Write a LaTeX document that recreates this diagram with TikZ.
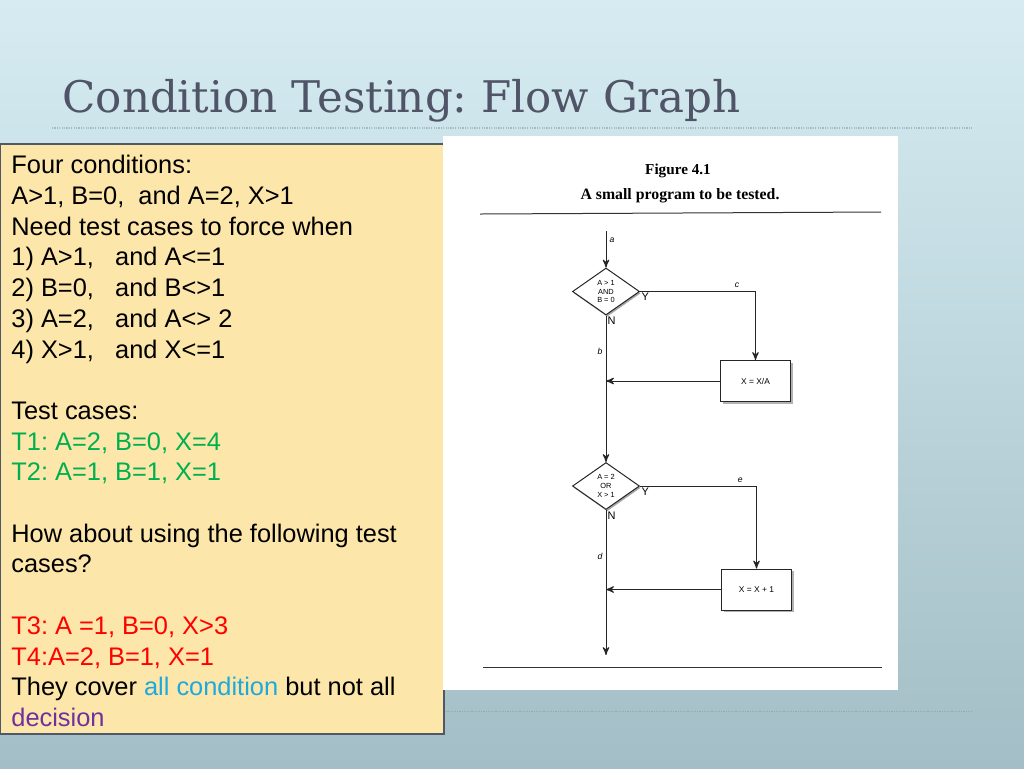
\documentclass[tikz,border=0pt]{standalone}
\usepackage{fontspec}
\setmainfont{Liberation Serif}
\setsansfont{Liberation Sans}
\newfontfamily\titlefont{DejaVu Serif}
\usetikzlibrary{calc}
\usetikzlibrary{arrows}
\usetikzlibrary{positioning}
\usetikzlibrary{shapes.geometric}
\usetikzlibrary{shadows}
\frenchspacing

\definecolor{bgtop}{HTML}{D6ECF2}
\definecolor{bgbot}{HTML}{A3BEC6}
\definecolor{titlegray}{HTML}{4F5466}
\definecolor{rulegray}{HTML}{A6BCC4}
\definecolor{boxfill}{HTML}{FCE6A9}
\definecolor{boxedge}{HTML}{4E5866}
\definecolor{tgreen}{HTML}{00B050}
\definecolor{tred}{HTML}{FF0000}
\definecolor{tblue}{HTML}{1EA9DC}
\definecolor{tpurple}{HTML}{7030A0}

\tikzset{
  decide/.style={diamond, draw=black!85, line width=0.5pt, fill=white, align=center, inner sep=0pt,
    minimum width=33.5pt, minimum height=23.5pt,
    font=\sffamily\fontsize{3.7}{4.3}\selectfont,
    drop shadow={shadow xshift=0.6pt, shadow yshift=-0.9pt, fill=black!70}},
  process/.style={rectangle, draw=black!85, line width=0.5pt, fill=white, inner sep=0pt,
    minimum width=35pt, minimum height=20.5pt,
    font=\sffamily\fontsize{4.2}{5}\selectfont,
    drop shadow={shadow xshift=1pt, shadow yshift=-1.2pt, fill=black!60}},
  flow/.style={->, line width=0.5pt, black!85},
  lbl/.style={font=\sffamily\itshape\fontsize{4.3}{5}\selectfont, inner sep=1.5pt, black},
  yn/.style={font=\sffamily\fontsize{5.5}{6}\selectfont, inner sep=0.6pt, anchor=north west}
}

\begin{document}
\begin{tikzpicture}[x=0.5pt,y=-0.5pt,>=stealth']
\useasboundingbox (0,0) rectangle (1024,768);

% slide background
\shade[top color=bgtop, bottom color=bgbot] (0,0) rectangle (1024,768);
\node[anchor=base west, inner sep=0, text=titlegray, font=\titlefont\fontsize{21.8}{25}\selectfont] (title) at (62,112) {Condition Testing: Flow Graph};
\draw[rulegray, line width=0.6pt, dash pattern=on 0.6pt off 0.6pt] (52,128) -- (972,128);
\draw[rulegray!90!black, line width=0.5pt, dash pattern=on 0.6pt off 0.6pt] (445,711) -- (972,711);

% left text box
\draw[fill=boxfill, draw=boxedge, line width=1.1pt] (0,144) rectangle (444,734);
\node[anchor=north west, inner sep=0, align=left, font=\sffamily\fontsize{12.7}{15.35}\selectfont] (notes) at (11,155) {%
Four conditions:\\
A>1, B=0,\ \ and A=2, X>1\\
Need test cases to force when\\
1) A>1,\ \ \ and A<=1\\
2) B=0,\ \ \ and B<>1\\
3) A=2,\ \ \ and A<> 2\\
4) X>1,\ \ \ and X<=1\\[15.35pt]
Test cases:\\
{\color{tgreen}T1: A=2, B=0, X=4}\\
{\color{tgreen}T2: A=1, B=1, X=1}\\[15.35pt]
How about using the following test\\
cases?\\[15.35pt]
{\color{tred}T3: A =1, B=0, X>3}\\
{\color{tred}T4:A=2, B=1, X=1}\\
They cover {\color{tblue}all condition} but not all\\
{\color{tpurple}decision}};

% scanned figure
\fill[white] (443,136) rectangle (898,690);
\node[font=\bfseries\fontsize{7.6}{8}\selectfont, inner sep=0] (fignum) at (678,171) {Figure 4.1};
\node[font=\bfseries\fontsize{7.9}{8}\selectfont, inner sep=0] (figcap) at (680,196) {A small program to be tested.};
\draw[black!80, line width=0.5pt] (480,214) -- (881,212);
\draw[black!80, line width=0.5pt] (483,667) -- (882,667);

\coordinate (in) at (606,231);
\coordinate (out) at (606,655);
\node[decide] (dA) at (606,291.5) {A > 1\\AND\\B = 0};
\node[process] (pA) at (755.5,381) {X = X/A};
\node[decide] (dB) at (606,486) {A = 2\\OR\\X > 1};
\node[process] (pB) at (756.5,589.5) {X = X + 1};

\draw[flow] (in) -- (dA.north) node[pos=0.25, right, lbl] {a};
\draw[flow] (dA.east) -| node[pos=0.42, above, lbl] {c} (pA.north);
\draw[flow] (dA.south) -- (dB.north) node[pos=0.245, left, lbl] {b};
\draw[flow] (pA.west) -- (pA.west -| dA.south);
\draw[flow] (dB.east) -| node[pos=0.43, above, lbl] {e} (pB.north);
\draw[flow] (dB.south) -- (out) node[pos=0.32, left, lbl] {d};
\draw[flow] (pB.west) -- (pB.west -| dB.south);

\node[yn] at (dA.east) {Y};
\node[yn] at (dA.south) {N};
\node[yn] at (dB.east) {Y};
\node[yn] at (dB.south) {N};
\end{tikzpicture}
\end{document}
